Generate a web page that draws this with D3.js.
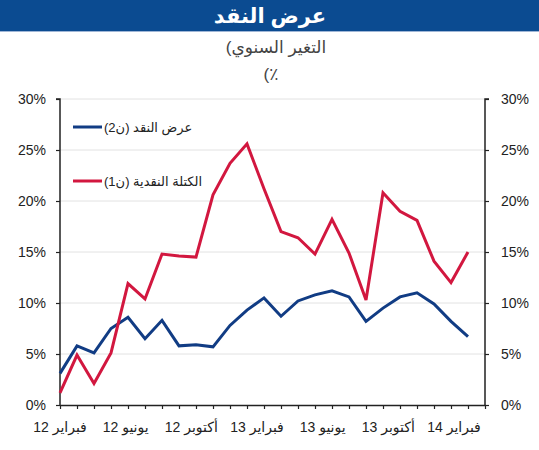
<!DOCTYPE html>
<html>
<head>
<meta charset="utf-8">
<script src="https://cdn.jsdelivr.net/npm/d3@7"></script>
<style>
  body { margin: 0; background: #fff; }
  svg { display: block; font-family: "Liberation Sans", Arial, "DejaVu Sans", sans-serif; }
</style>
</head>
<body>
<svg width="539" height="450"></svg>
<script>
// monthly data, Feb 2012 .. Feb 2014 (year-on-year %)
var m2 = [3.1, 5.8, 5.1, 7.5, 8.6, 6.5, 8.3, 5.8, 5.9, 5.7, 7.8, 9.3, 10.5,
          8.7, 10.2, 10.8, 11.2, 10.6, 8.2, 9.5, 10.6, 11.0, 9.9, 8.2, 6.7];
var m1 = [1.2, 4.9, 2.1, 5.1, 11.9, 10.4, 14.8, 14.6, 14.5, 20.6, 23.7, 25.6, 21.2,
          17.0, 16.4, 14.8, 18.2, 14.9, 10.3, 20.8, 19.0, 18.1, 14.1, 12.0, 15.0];
var labelMonths = [0, 4, 8, 12, 16, 20, 24];
var labelNames = ["فبراير 12", "يونيو 12", "أكتوبر 12", "فبراير 13", "يونيو 13", "أكتوبر 13", "فبراير 14"];
var yTicks = [0, 5, 10, 15, 20, 25, 30];
var seriesNames = ["عرض النقد (ن2)", "الكتلة النقدية (ن1)"];
var seriesColors = ["#113c84", "#d2173f"];

var svg = d3.select("svg");

// header bar
svg.append("rect").attr("x", 0).attr("y", 0).attr("width", 539).attr("height", 31).attr("fill", "#0b4b91");
svg.append("rect").attr("x", 0).attr("y", 31).attr("width", 539).attr("height", 1).attr("fill", "#9fb6d6");
svg.append("text").attr("x", 270).attr("y", 23).attr("text-anchor", "middle")
  .attr("fill", "#fff").style("font-size", "21px").style("font-weight", "bold")
  .text("عرض النقد");

svg.append("text").attr("x", 276).attr("y", 53).attr("text-anchor", "middle").attr("direction", "rtl")
  .attr("fill", "#444").style("font-size", "17px").text("التغير السنوي)");
svg.append("text").attr("x", 271).attr("y", 80).attr("text-anchor", "middle").attr("direction", "rtl")
  .attr("fill", "#444").style("font-size", "17px").text("٪)");

var x = d3.scaleLinear().domain([0, 25]).range([60, 485]);
var xl = d3.scaleLinear().domain([0, 24]).range([60, 454]); // label placement
var y = d3.scaleLinear().domain([0, 30]).range([405, 99]);

// grid
svg.append("g").selectAll("line").data(yTicks.slice(1)).enter().append("line")
  .attr("x1", x(0)).attr("x2", x(25))
  .attr("y1", function (d) { return y(d); }).attr("y2", function (d) { return y(d); })
  .attr("stroke", "#e2e2e2").attr("stroke-width", 1);

// axes
var fmt = function (d) { return d + "%"; };
var gl = svg.append("g").attr("transform", "translate(" + x(0) + ",0)")
  .call(d3.axisLeft(y).tickValues(yTicks).tickFormat(fmt).tickSize(4).tickPadding(10));
var gr = svg.append("g").attr("transform", "translate(" + x(25) + ",0)")
  .call(d3.axisRight(y).tickValues(yTicks).tickFormat(fmt).tickSize(4).tickPadding(12));
var gb = svg.append("g").attr("transform", "translate(0," + y(0) + ")")
  .call(d3.axisBottom(x).tickValues(d3.range(0, 26)).tickFormat("").tickSize(4).tickSizeOuter(0));

[gl, gr, gb].forEach(function (g) {
  g.select(".domain").attr("stroke", "#222").attr("stroke-width", 1.5);
  g.selectAll(".tick line").attr("stroke", "#222").attr("stroke-width", 1.2);
  g.selectAll(".tick text").attr("fill", "#222").style("font-size", "14px")
    .style("font-family", "\"Liberation Sans\", Arial, sans-serif");
});
gl.select(".domain").attr("d", "M-4," + y(30) + "H0V" + y(0));
gr.select(".domain").attr("d", "M4," + y(30) + "H0V" + y(0));

svg.append("g").selectAll("text").data(labelMonths).enter().append("text")
  .attr("x", function (d) { return xl(d); }).attr("y", 432)
  .attr("text-anchor", "middle").attr("direction", "rtl")
  .attr("fill", "#222").style("font-size", "14px")
  .text(function (d, i) { return labelNames[i]; });

// series
var line = d3.line().x(function (d, i) { return x(i); }).y(function (d) { return y(d); });
[m2, m1].forEach(function (s, k) {
  svg.append("path").datum(s).attr("d", line).attr("fill", "none")
    .attr("stroke", seriesColors[k]).attr("stroke-width", 3).attr("stroke-linejoin", "miter");
});

// legend
var lg = svg.append("g").selectAll("g").data(seriesNames).enter().append("g")
  .attr("transform", function (d, i) { return "translate(73," + (127 + i * 54) + ")"; });
lg.append("line").attr("x1", 0).attr("x2", 29).attr("y1", 0).attr("y2", 0)
  .attr("stroke", function (d, i) { return seriesColors[i]; }).attr("stroke-width", 3);
lg.append("text").attr("x", 31).attr("y", 5).attr("text-anchor", "end").attr("direction", "rtl")
  .attr("fill", "#222").style("font-size", "13px")
  .text(function (d) { return d; });
</script>
</body>
</html>
